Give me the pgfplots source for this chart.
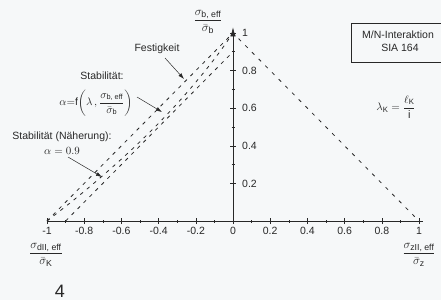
\documentclass[border=0pt]{standalone}
\usepackage{amsmath}
\usepackage{pgfplots}
\pgfplotsset{compat=1.18}
\usepackage{fontspec}
\setmainfont{Liberation Sans}
\usetikzlibrary{arrows.meta}
\definecolor{ink}{RGB}{40,40,40}
\definecolor{bg}{RGB}{246,248,249}
\newcommand{\fr}[2]{\ensuremath{\displaystyle\frac{#1}{#2}}}
\begin{document}
\begin{tikzpicture}[color=ink, every node/.style={inner sep=1pt}]
\useasboundingbox (0pt,0pt) rectangle (441pt,300pt);
\fill[bg] (0pt,0pt) rectangle (441pt,300pt);
\begin{axis}[
  at={(47pt,79pt)}, anchor=south west,
  scale only axis, width=375.72pt, height=193.64pt,
  axis lines=middle,
  axis line style={line width=0.7pt, ink},
  y axis line style={-{Latex[length=9pt,width=5.5pt]}},
  x axis line style={-},
  xmin=-1, xmax=1.02, ymin=0, ymax=1.03,
  xtick={-1,-0.8,-0.6,-0.4,-0.2,0,0.2,0.4,0.6,0.8,1},
  xticklabels={-1,-0.8,-0.6,-0.4,-0.2,0,0.2,0.4,0.6,0.8,1},
  ytick={0.2,0.4,0.6,0.8,1},
  yticklabels={0.2,0.4,0.6,0.8,1},
  minor x tick num=1, minor y tick num=1,
  tick align=center,
  major tick length=6pt, minor tick length=3pt,
  tick style={line width=0.6pt, ink},
  hide obscured x ticks=false,
  tick label style={font=\fontsize{10.5}{12}\selectfont, text=ink, inner sep=2pt},
  xticklabel style={yshift=-1pt},
  yticklabel style={anchor=west, xshift=10pt},
  clip=false,
]
\addplot[ink, line width=0.8pt, dash pattern=on 3.5pt off 5pt] coordinates {(-1,0) (0,1)};
\addplot[ink, line width=0.8pt, dash pattern=on 3.5pt off 5pt] coordinates {(-0.9,0) (0,0.9)};
\addplot[ink, line width=0.8pt, dash pattern=on 3.5pt off 5pt, smooth] coordinates {
 (-1,0) (-0.871,0.1) (-0.749,0.2) (-0.633,0.3) (-0.523,0.4) (-0.42,0.5)
 (-0.323,0.6) (-0.233,0.7) (-0.149,0.8) (-0.071,0.9) (0,1)};
\addplot[ink, line width=0.8pt, dash pattern=on 3.5pt off 6pt] coordinates {(0.03,0.97) (1,0)};
\end{axis}
% axis titles
\node[font=\fontsize{12.5}{14}\selectfont] at (208pt,278pt) {\fr{\sigma_{\text{b, eff}}}{\bar{\sigma}_{\text{b}}}};
\node[font=\fontsize{12.5}{14}\selectfont] at (46pt,45pt) {\fr{\sigma_{\text{dII, eff}}}{\bar{\sigma}_{\text{K}}}};
\node[font=\fontsize{12.5}{14}\selectfont] at (419pt,45pt) {\fr{\sigma_{\text{zII, eff}}}{\bar{\sigma}_{\text{z}}}};
% annotations
\node[font=\fontsize{10.5}{12}\selectfont] at (157pt,251pt) {Festigkeit};
\node[font=\fontsize{10.5}{12}\selectfont] at (102pt,224pt) {Stabilität:};
\node[font=\fontsize{10.5}{12}\selectfont] at (96pt,197pt) {$\alpha{=}\mathrm{f}\biggl(\lambda\,,\dfrac{\sigma_{\text{b, eff}}}{\bar{\sigma}_{\text{b}}}\biggr)$};
\node[font=\fontsize{10.5}{12}\selectfont] at (62pt,163pt) {Stabilität (Näherung):};
\node[font=\fontsize{10.5}{12}\selectfont] at (62pt,149pt) {$\alpha = 0.9$};
\draw[line width=0.6pt] (351pt,238pt) rectangle (448pt,277pt);
\node[font=\fontsize{10.5}{12}\selectfont] at (398pt,265pt) {M/N-Interaktion};
\node[font=\fontsize{10.5}{12}\selectfont] at (400pt,252pt) {SIA 164};
\node[font=\fontsize{11}{12}\selectfont] at (396pt,193pt) {$\lambda_{\text{K}}=\dfrac{\ell_{\text{K}}}{\text{i}}$};
\node[font=\fontsize{18}{20}\selectfont] at (60pt,9pt) {4};
% arrows
\draw[line width=0.5pt, -{Latex[length=6pt,width=4pt]}] (165pt,242pt) -- (184pt,221pt);
\draw[line width=0.5pt, -{Latex[length=6pt,width=4pt]}] (137pt,203pt) -- (162pt,188pt);
\draw[line width=0.5pt, -{Latex[length=6pt,width=4pt]}] (68pt,143pt) -- (102pt,123pt);
\end{tikzpicture}
\end{document}
